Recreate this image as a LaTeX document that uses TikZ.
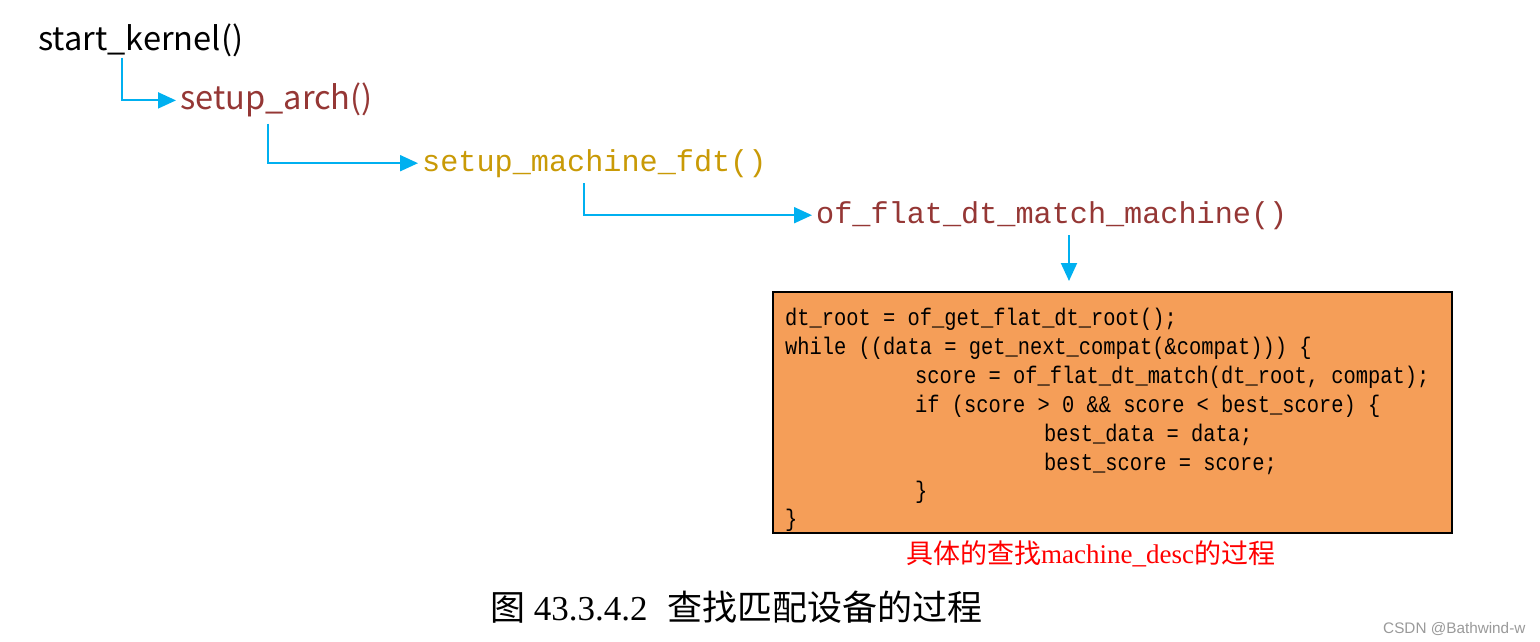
\documentclass[tikz,border=0pt]{standalone}
\usepackage{fontspec}
\setmainfont{Liberation Serif}
\newfontfamily\cjk{Noto Sans CJK SC}
\newfontfamily\sansf{Noto Sans CJK SC}
\newfontfamily\wmf{Liberation Sans}
\newfontfamily\monof{Liberation Mono}
\newfontfamily\codef[FakeStretch=0.85]{Liberation Mono}
\usetikzlibrary{arrows.meta}
\definecolor{arrowblue}{HTML}{00B0F0}
\definecolor{brownred}{HTML}{953735}
\definecolor{goldc}{HTML}{C99A06}
\definecolor{boxorange}{HTML}{F59E58}
\definecolor{wmgray}{HTML}{9A9A9A}
\tikzset{
  fn/.style={inner sep=0pt, anchor=base west},
  sanslbl/.style={fn, font=\sansf\fontsize{32.6}{40}\selectfont},
  monolbl/.style={fn, font=\monof\fontsize{30.2}{38}\selectfont},
  codeline/.style={fn, font=\codef\fontsize{24}{29}\selectfont},
  conn/.style={draw=arrowblue, line width=2pt, -{Triangle[length=18pt,width=16pt]}, shorten >=4pt},
  codebox/.style={draw=black, line width=2pt, fill=boxorange, minimum width=679pt, minimum height=241pt, inner sep=0pt, anchor=north west},
}
\begin{document}
\begin{tikzpicture}[x=1pt,y=-1pt]
\useasboundingbox (0,0) rectangle (1540,642);
\fill[white] (0,0) rectangle (1540,642);

\node[sanslbl] (sk) at (38,51) {start\_kernel()};
\node[sanslbl, text=brownred] (sa) at (180,110) {setup\_arch()};
\node[monolbl, text=goldc] (smf) at (422,171) {setup\_machine\_fdt()};
\node[monolbl, text=brownred] (ofm) at (816,223) {of\_flat\_dt\_match\_machine()};

\node[codebox] (box) at (772,291) {};
\node[codeline] (l1) at (785,325) {dt\_root = of\_get\_flat\_dt\_root();};
\node[codeline] (l2) at (785,354) {while ((data = get\_next\_compat(\&compat))) \{};
\node[codeline] (l3) at (915,383) {score = of\_flat\_dt\_match(dt\_root, compat);};
\node[codeline] (l4) at (915,412) {if (score > 0 \&\& score < best\_score) \{};
\node[codeline] (l5) at (1044,441) {best\_data = data;};
\node[codeline] (l6) at (1044,470) {best\_score = score;};
\node[codeline] (l7) at (915,498) {\}};
\node[codeline] (l8) at (785,526) {\}};

\node[fn, text=red, font=\fontsize{27}{32}\selectfont] (note) at (906,563) {{\cjk 具体的查找}machine\_desc{\cjk 的过程}};
\node[fn, font=\fontsize{35}{42}\selectfont] (cap) at (490,620) {{\cjk 图} 43.3.4.2\hspace{20pt}{\cjk 查找匹配设备的过程}};
\node[fn, text=wmgray, font=\wmf\fontsize{15.3}{18}\selectfont] (wm) at (1383,633) {CSDN @Bathwind-w};

\draw[conn] ([xshift=84pt,yshift=0pt]sk.south west) |- (sa.west);
\draw[conn] ([xshift=88pt,yshift=-6pt]sa.south west) |- (smf.west);
\draw[conn] ([xshift=162pt,yshift=-6pt]smf.south west) |- (ofm.west);
\coordinate (d0) at ([xshift=253pt,yshift=-6pt]ofm.south west);
\draw[conn, shorten >=10pt] (d0) -- (d0 |- box.north);
\end{tikzpicture}
\end{document}
